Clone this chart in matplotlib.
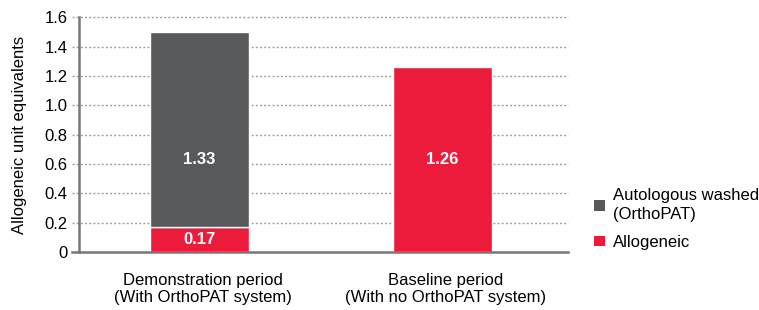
import matplotlib.pyplot as plt
from matplotlib.patches import Patch

plt.rcParams['font.family'] = ['Liberation Sans', 'DejaVu Sans']

categories = ['Demonstration period\n(With OrthoPAT system)',
              'Baseline period\n(With no OrthoPAT system)']
allogeneic = [0.17, 1.26]
autologous = [1.33, 0.0]
yticks = [0, 0.2, 0.4, 0.6, 0.8, 1.0, 1.2, 1.4, 1.6]
ytick_labels = ['0', '0.2', '0.4', '0.6', '0.8', '1.0', '1.2', '1.4', '1.6']

red = '#ed1b3b'
grey = '#58595b'

fig = plt.figure(figsize=(7.59, 3.10), dpi=100)
ax = fig.add_axes([0.104, 0.187, 0.644, 0.757])

x = [0, 1]
ax.bar(x, allogeneic, width=0.407, color=red, edgecolor='white', linewidth=1, zorder=3)
ax.bar(x[:1], autologous[:1], bottom=allogeneic[:1], width=0.407, color=grey,
       edgecolor='white', linewidth=1, zorder=3)

# dotted gridlines, poking out a bit left of the axis
for y in yticks[1:]:
    ax.plot([-0.015, 1], [y, y], transform=ax.get_yaxis_transform(), clip_on=False,
            color='#a0a0a0', linestyle=(0, (1.5, 1.5)), linewidth=1, zorder=1)
ax.plot([-0.015, 1], [0, 0], transform=ax.get_yaxis_transform(), clip_on=False,
        color='#777777', linewidth=1.8, zorder=4)

ax.set_xlim(-0.496, 1.516)
ax.set_ylim(0, 1.6)
ax.set_yticks(yticks)
ax.set_yticklabels(ytick_labels, fontsize=12)
ax.set_xticks([xi + 0.015 for xi in x])
ax.set_xticklabels(categories, fontsize=12, linespacing=1.15)
ax.tick_params(axis='y', length=0, pad=8)
ax.tick_params(axis='x', length=0, pad=15)

for s in ['top', 'right', 'bottom']:
    ax.spines[s].set_visible(False)
ax.spines['left'].set_color('#777777')
ax.spines['left'].set_linewidth(1.8)
ax.spines['left'].set_zorder(4)

ax.set_ylabel('Allogeneic unit equivalents', fontsize=12, labelpad=13)

# value labels
ax.text(0, allogeneic[0] / 2, f'{allogeneic[0]:.2f}', color='white', fontsize=12,
        fontweight='bold', ha='center', va='center', zorder=5)
ax.text(0, 0.63, f'{autologous[0]:.2f}', color='white', fontsize=12,
        fontweight='bold', ha='center', va='center', zorder=5)
ax.text(1, 0.63, f'{allogeneic[1]:.2f}', color='white', fontsize=12,
        fontweight='bold', ha='center', va='center', zorder=5)

handles = [Patch(facecolor=grey, label='Autologous washed\n(OrthoPAT)'),
           Patch(facecolor=red, label='Allogeneic')]
leg = fig.legend(handles=handles, loc='upper left', bbox_to_anchor=(0.783, 0.393),
                 frameon=False, fontsize=12, handlelength=0.62, handleheight=0.62,
                 handletextpad=0.5, labelspacing=0.75, borderpad=0, borderaxespad=0)
for t in leg.get_texts():
    t.set_linespacing(1.35)

fig.savefig('out.png', dpi=100)
